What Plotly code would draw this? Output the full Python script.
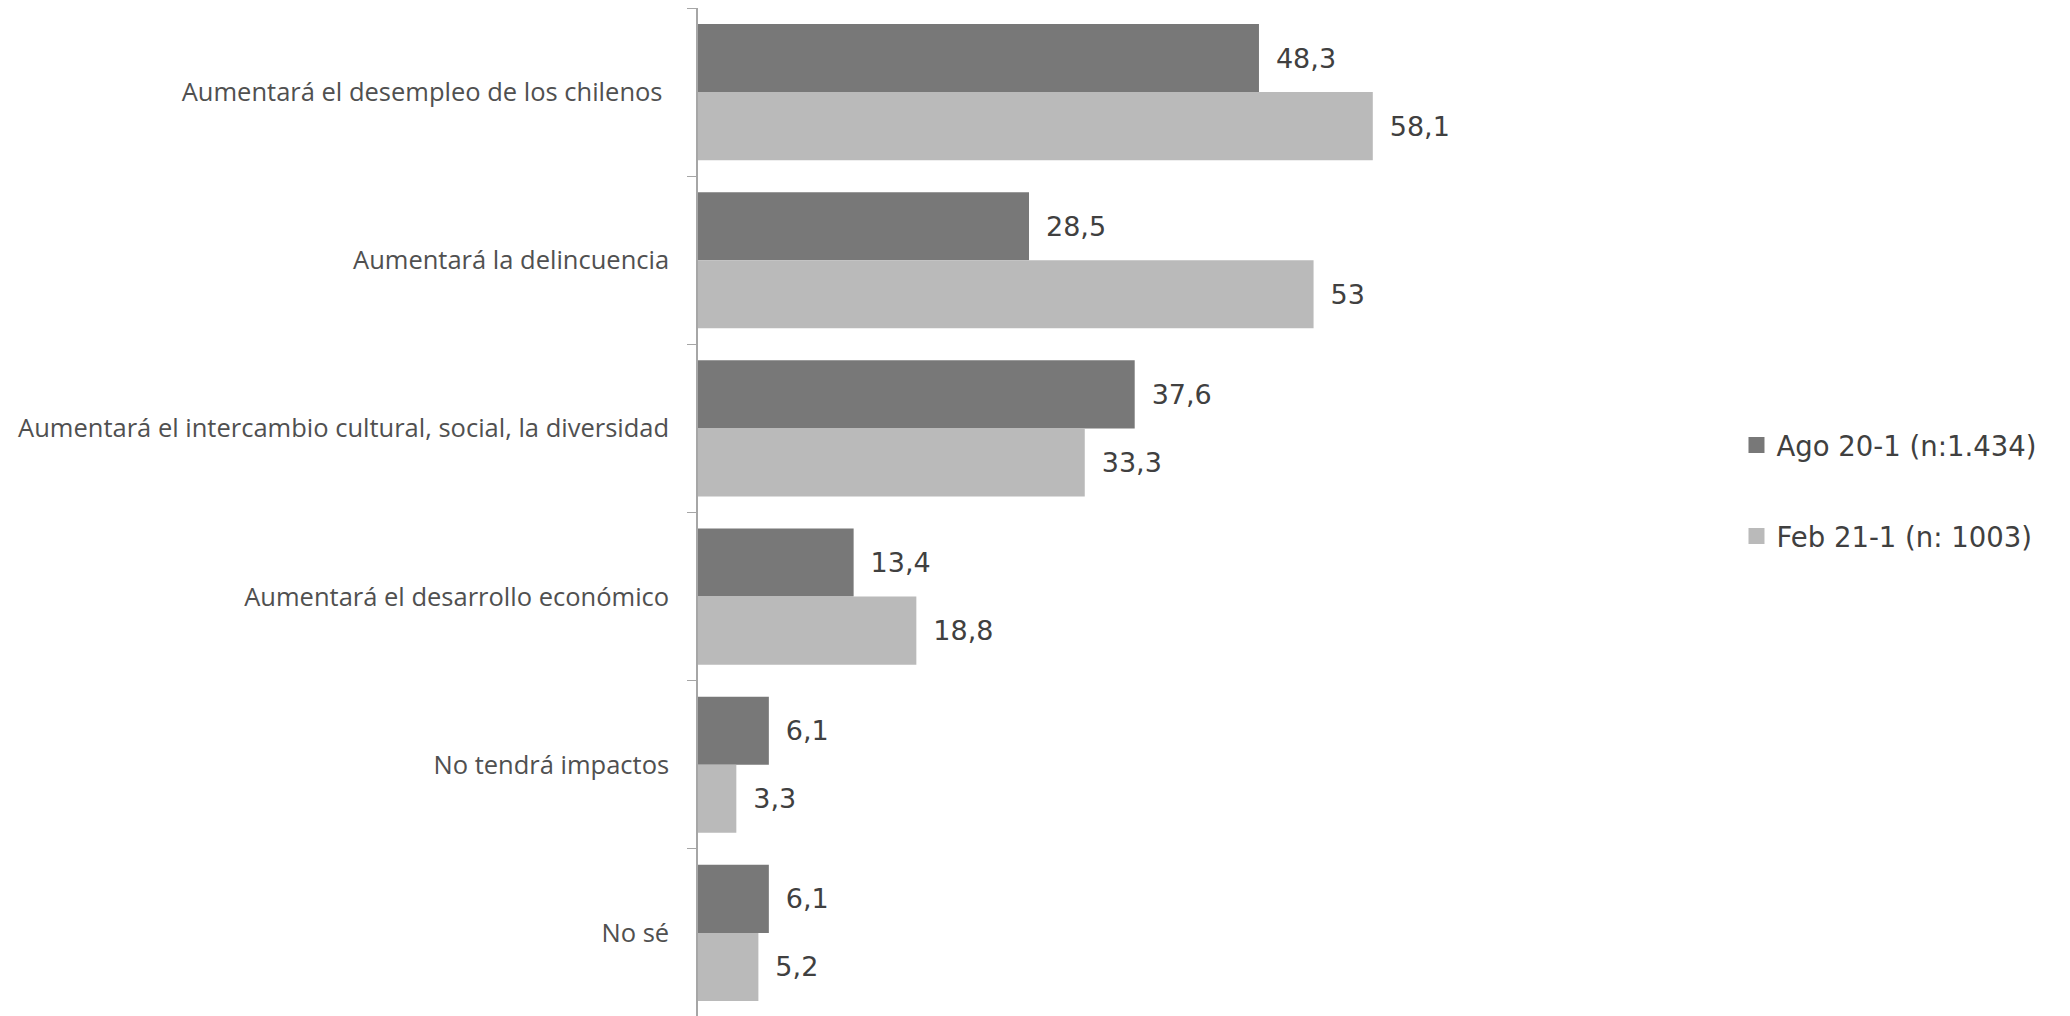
import plotly.graph_objects as go

categories = [
    "Aumentará el desempleo de los chilenos ",
    "Aumentará la delincuencia",
    "Aumentará el intercambio cultural, social, la diversidad",
    "Aumentará el desarrollo económico",
    "No tendrá impactos",
    "No sé",
]
ago20 = [48.3, 28.5, 37.6, 13.4, 6.1, 6.1]
feb21 = [58.1, 53, 33.3, 18.8, 3.3, 5.2]
series_names = ["Ago 20-1 (n:1.434)", "Feb 21-1 (n: 1003)"]
colors = ["#787878", "#BABABA"]


def fmt(v):
    s = ("%g" % v).replace(".", ",")
    return "\u00a0\u2009" + s


OFF = 8  # default page body margin
W, H = 2054, 1009
ML, MT, MB = 698 - OFF, 0, 0
XMAX = 70
PX_PER_UNIT = 11.62
plot_w = XMAX * PX_PER_UNIT
MR = W - ML - plot_w
plot_h = H - MT - MB

fig = go.Figure()
for name, vals, col in zip(series_names, [ago20, feb21], colors):
    fig.add_trace(go.Bar(
        y=categories, x=vals, name=name, orientation="h",
        marker=dict(color=col, line=dict(width=0)),
        text=[fmt(v) for v in vals], textposition="outside",
        textfont=dict(family="DejaVu Sans", size=27, color="#404040"),
        cliponaxis=False, showlegend=False,
    ))

# legend entries with larger square swatches
for name, col, lg in zip(series_names, colors, ["legend", "legend2"]):
    fig.add_trace(go.Scatter(
        x=[None], y=[None], mode="markers", name=name,
        marker=dict(symbol="square", size=16, color=col, line=dict(width=0)),
        legend=lg, showlegend=True, hoverinfo="skip",
    ))


def ly(ypix_abs):
    y = ypix_abs - OFF
    return (H - MB - y) / plot_h


def lx(xpix_abs):
    x = xpix_abs - OFF
    return (x - ML) / plot_w


legend_common = dict(
    font=dict(family="DejaVu Sans", size=27.5, color="#404040"),
    bgcolor="rgba(0,0,0,0)", xanchor="left", yanchor="middle",
    itemwidth=30, borderwidth=0, itemsizing="trace",
)

fig.update_layout(
    width=W, height=H,
    margin=dict(l=ML, r=MR, t=MT, b=MB, pad=0, autoexpand=False),
    paper_bgcolor="white", plot_bgcolor="white",
    barmode="group", bargap=0.19, bargroupgap=0,
    showlegend=True,
    legend=dict(x=lx(1737), y=ly(445), **legend_common),
    legend2=dict(x=lx(1737), y=ly(536), **legend_common),
    xaxis=dict(range=[0, XMAX], visible=False, showgrid=False, zeroline=False,
               automargin=False),
    yaxis=dict(
        autorange="reversed", type="category", automargin=False,
        showline=True, linecolor="#A6A6A6", linewidth=1.5,
        ticks="outside", tickson="boundaries", ticklen=9, tickcolor="#A6A6A6",
        tickfont=dict(family="Open Sans", size=25.5, color="#505050"),
        ticklabelstandoff=22,
        showgrid=False, zeroline=False,
    ),
)

fig.write_html("out.html")
